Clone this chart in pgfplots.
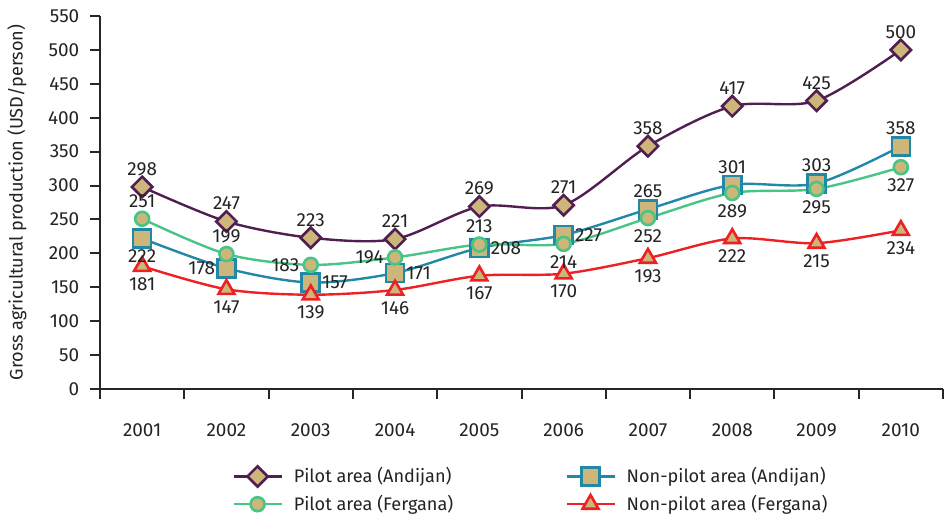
\documentclass[border=0pt]{standalone}
\usepackage{fontspec}
\setmainfont{Fira Sans}
\usepackage{pgfplots}
\usepackage{pgfplotstable}
\pgfplotsset{compat=1.18}
\definecolor{tanfill}{RGB}{205,182,122}
\definecolor{paC}{RGB}{80,30,80}
\definecolor{naC}{RGB}{35,135,168}
\definecolor{pfC}{RGB}{72,196,135}
\definecolor{nfC}{RGB}{238,32,36}
\definecolor{txt}{RGB}{35,35,35}

% c: 1 = above, 2 = below, 3 = left, 4 = right
\pgfplotstableread{
x y c
1 298 1
2 247 1
3 223 1
4 221 1
5 269 1
6 271 1
7 358 1
8 417 1
9 425 1
10 500 1
}\tpa
\pgfplotstableread{
x y c
1 222 2
2 178 3
3 157 4
4 171 4
5 208 4
6 227 4
7 265 1
8 301 1
9 303 1
10 358 1
}\tna
\pgfplotstableread{
x y c
1 251 1
2 199 1
3 183 3
4 194 3
5 213 1
6 214 2
7 252 2
8 289 2
9 295 2
10 327 2
}\tpf
\pgfplotstableread{
x y c
1 181 2
2 147 2
3 139 2
4 146 2
5 167 2
6 170 2
7 193 2
8 222 2
9 215 2
10 234 2
}\tnf

\newcommand\lbl[3]{%
  \addplot[draw=none, forget plot, nodes near coords, point meta=explicit symbolic,
    restrict expr to domain={\thisrow{c}}{#2:#2},
    every node near coord/.style={anchor=#3, inner sep=5.5bp, text=txt, font=\fontsize{9.5}{11.4}\selectfont}]
    table[x=x, y=y, meta=y] {#1};
}

\begin{document}
\fontsize{9.5}{11.4}\selectfont
\begin{tikzpicture}
\path[use as bounding box] (-50bp,-62.5bp) rectangle (422.5bp,194.5bp);
\begin{axis}[
  at={(0,0)}, anchor=south west,
  scale only axis,
  width=421.5bp, height=186.5bp,
  xmin=0.5, xmax=10.5, ymin=0, ymax=550,
  axis x line=bottom, axis y line=left,
  axis line style={-, line width=1bp, draw=black!85},
  ytick={0,50,...,550},
  xtick={1,...,10},
  xticklabels={2001,2002,2003,2004,2005,2006,2007,2008,2009,2010},
  minor xtick={0.5,1.5,...,10.5},
  tick align=outside,
  major x tick style={draw=none},
  minor tick length=5bp,
  major tick length=5bp,
  tick style={line width=1bp, draw=black!85},
  /pgf/number format/assume math mode=true,
  tick label style={font=\fontsize{9.5}{11.4}\selectfont, text=txt},
  xticklabel style={yshift=-9bp},
  yticklabel style={xshift=-2bp},
  ylabel={Gross agricultural production (USD/person)},
  ylabel style={at={(rel axis cs:0,0.5)}, anchor=center, yshift=41.5bp, font=\fontsize{9.1}{11}\selectfont, text=txt},
  legend columns=2,
  legend style={draw=none, fill=none, at={(66bp,-37bp)}, anchor=north west, inner sep=0pt,
    font=\fontsize{9.1}{11}\selectfont, text=txt, row sep=0.8bp,
    /tikz/every odd column/.append style={column sep=3.5bp},
    /tikz/column 2/.append style={column sep=54bp}},
  legend cell align=left,
  legend image code/.code={\draw[mark repeat=2,mark phase=2,#1] plot coordinates {(0bp,0bp)(12bp,0bp)(24bp,0bp)};},
  clip=false,
]
\addplot[smooth, line width=1.2bp, paC, mark=square*, mark size=3.6bp,
  mark options={rotate=45, fill=tanfill, draw=paC, line width=1.3bp}]
  table[x=x, y=y] {\tpa};
\addlegendentry{Pilot area (Andijan)}
\addplot[smooth, line width=1.2bp, naC, mark=square*, mark size=4.5bp,
  mark options={fill=tanfill, draw=naC, line width=1.3bp}]
  table[x=x, y=y] {\tna};
\addlegendentry{Non-pilot area (Andijan)}
\addplot[smooth, line width=1.2bp, pfC, mark=*, mark size=3.5bp,
  mark options={fill=tanfill, draw=pfC, line width=1.3bp}]
  table[x=x, y=y] {\tpf};
\addlegendentry{Pilot area (Fergana)}
\addplot[smooth, line width=1.2bp, nfC, mark=triangle*, mark size=4.6bp,
  mark options={fill=tanfill, draw=nfC, line width=1.3bp}]
  table[x=x, y=y] {\tnf};
\addlegendentry{Non-pilot area (Fergana)}
\lbl{\tpa}{1}{south}
\lbl{\tna}{1}{south}
\lbl{\tna}{2}{north}
\lbl{\tna}{3}{east}
\lbl{\tna}{4}{west}
\lbl{\tpf}{1}{south}
\lbl{\tpf}{2}{north}
\lbl{\tpf}{3}{east}
\lbl{\tnf}{2}{north}
\end{axis}
\end{tikzpicture}
\end{document}
